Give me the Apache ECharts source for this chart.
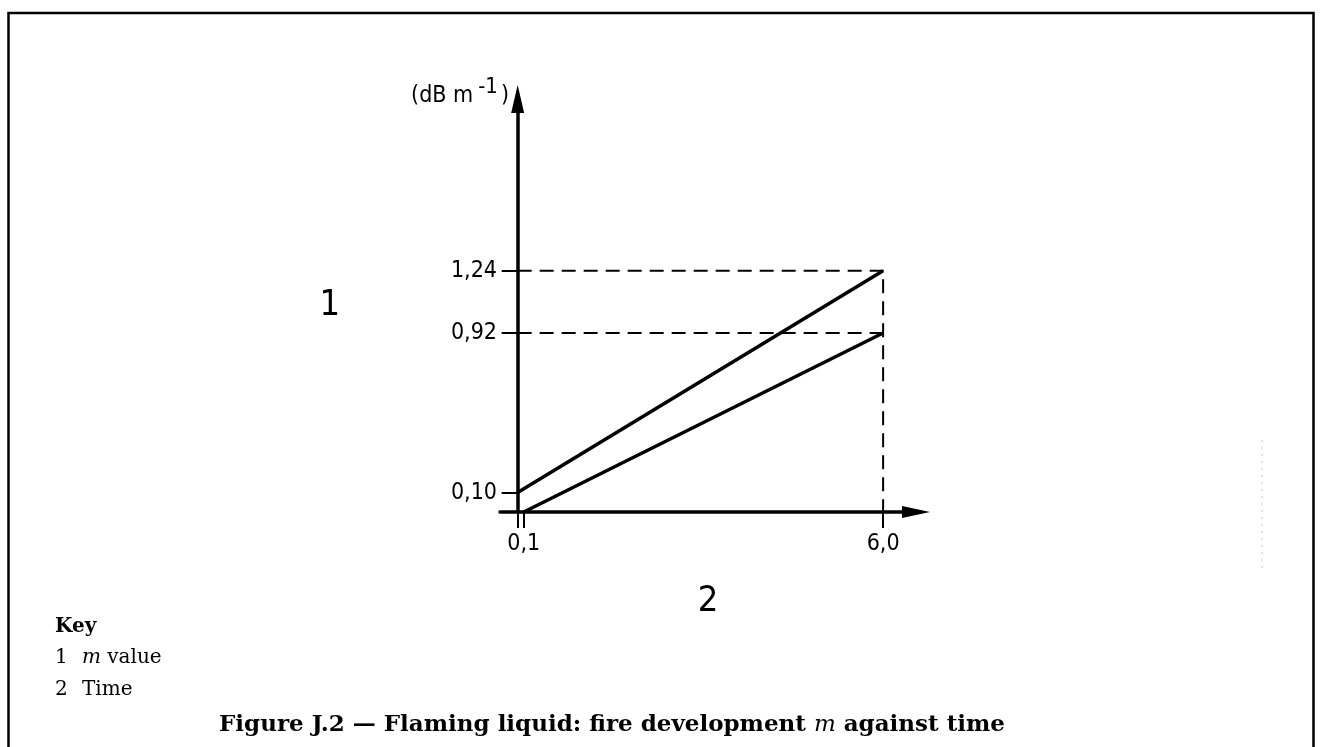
<!DOCTYPE html>
<html>
<head>
<meta charset="utf-8">
<script src="https://cdn.jsdelivr.net/npm/echarts@6/dist/echarts.min.js"></script>
<style>
  html, body { margin: 0; padding: 0; background: #fff; }
  #output { width: 1321px; height: 747px; }
</style>
</head>
<body>
<div id="output"></div>
<script>
const chart = echarts.init(document.getElementById('output'));

// values
const xTickValues = [0, 0.1, 6.0]
const xLabelValues = [0.1, 6.0]
const yTickValues = [0.10, 0.92, 1.24]
const upperLine = [[0, 0.10], [6.0, 1.24]]
const lowerLine = [[0.1, 0], [6.0, 0.92]]
const guideHigh = [[0, 1.24], [6.0, 1.24], [6.0, 0]]
const guideLow = [[0, 0.92], [6.0, 0.92]]
const keyItems = [['1', 'm', ' value'], ['2', '', 'Time']]

const labelFont = '"Liberation Sans Narrow", "DejaVu Sans Condensed", "DejaVu Sans", sans-serif'
const serifFont = '"DejaVu Serif", "Liberation Serif", serif'

function comma (v, d) {
  return v.toFixed(d).replace('.', ',')
}

function solid (data) {
  return {
    type: 'line',
    data,
    symbol: 'none',
    silent: true,
    lineStyle: { color: '#000', width: 3.5 }
  }
}

function dashed (data) {
  return {
    type: 'line',
    data,
    symbol: 'none',
    silent: true,
    lineStyle: { color: '#000', width: 2, type: [14, 8] }
  }
}

function keyTexts () {
  const out = [{
    type: 'text', x: 55, y: 627,
    style: { text: 'Key', font: 'bold 20px ' + serifFont, fill: '#000', verticalAlign: 'middle' }
  }]
  keyItems.forEach((k, i) => {
    const y = 658 + i * 32
    out.push({
      type: 'text', x: 55, y,
      style: { text: k[0], font: '20px ' + serifFont, fill: '#000', verticalAlign: 'middle' }
    })
    out.push({
      type: 'text', x: 82, y,
      style: {
        text: (k[1] ? '{i|' + k[1] + '}' : '') + k[2],
        font: '20px ' + serifFont,
        fill: '#000',
        verticalAlign: 'middle',
        rich: { i: { fontStyle: 'italic', fontFamily: serifFont, fontSize: 20 } }
      }
    })
  })
  return out
}

const option = {
  animation: false,
  grid: { left: 500, right: 405, top: 99, bottom: 235 },
  xAxis: {
    type: 'value',
    min: -0.29,
    max: 6.54,
    splitLine: { show: false },
    axisLine: {
      onZero: true,
      symbol: ['none', 'triangle'],
      symbolSize: [12, 28],
      lineStyle: { color: '#000', width: 3.5 }
    },
    axisTick: {
      customValues: xTickValues,
      length: 16,
      lineStyle: { color: '#000', width: 2 }
    },
    axisLabel: {
      customValues: xLabelValues,
      formatter: v => comma(v, 1),
      margin: 21,
      color: '#000',
      fontFamily: labelFont,
      fontSize: 23
    },
    name: '2',
    nameLocation: 'middle',
    nameGap: 72,
    nameTextStyle: { color: '#000', fontFamily: labelFont, fontSize: 36 }
  },
  yAxis: {
    type: 'value',
    min: 0,
    max: 2.122,
    splitLine: { show: false },
    axisLine: {
      onZero: true,
      symbol: ['none', 'triangle'],
      symbolSize: [13, 28],
      lineStyle: { color: '#000', width: 3.5 }
    },
    axisTick: {
      customValues: yTickValues,
      length: 16,
      lineStyle: { color: '#000', width: 2 }
    },
    axisLabel: {
      customValues: yTickValues,
      formatter: v => comma(v, 2),
      margin: 3,
      color: '#000',
      fontFamily: labelFont,
      fontSize: 23
    },
    name: '1',
    nameLocation: 'middle',
    nameGap: 160,
    nameRotate: 0,
    nameTextStyle: { color: '#000', fontFamily: labelFont, fontSize: 36 }
  },
  series: [
    dashed(guideHigh),
    dashed(guideLow),
    solid(upperLine),
    solid(lowerLine)
  ],
  graphic: [
    {
      type: 'polyline',
      shape: { points: [[8.5, 747], [8.5, 13], [1313.5, 13], [1313.5, 747]] },
      style: { stroke: '#000', lineWidth: 2.5, fill: null }
    },
    {
      type: 'line',
      shape: { x1: 1262, y1: 440, x2: 1262, y2: 570 },
      style: { stroke: '#c8c8c8', lineWidth: 1, lineDash: [2, 5] }
    },
    {
      type: 'text', x: 509, y: 96,
      style: {
        text: '(dB m{s|-1})',
        font: '23px ' + labelFont,
        fill: '#000',
        align: 'right',
        verticalAlign: 'middle',
        rich: { s: { fontFamily: labelFont, fontSize: 22, padding: [0, 3, 18, 5] } }
      }
    },
    ...keyTexts(),
    {
      type: 'text', x: 612, y: 725,
      style: {
        text: 'Figure J.2 — Flaming liquid: fire development {i|m} against time',
        font: 'bold 23px ' + serifFont,
        fill: '#000',
        align: 'center',
        verticalAlign: 'middle',
        rich: { i: { fontStyle: 'italic', fontWeight: 'normal', fontFamily: serifFont, fontSize: 23 } }
      }
    }
  ]
}

chart.setOption(option)
</script>
</body>
</html>
